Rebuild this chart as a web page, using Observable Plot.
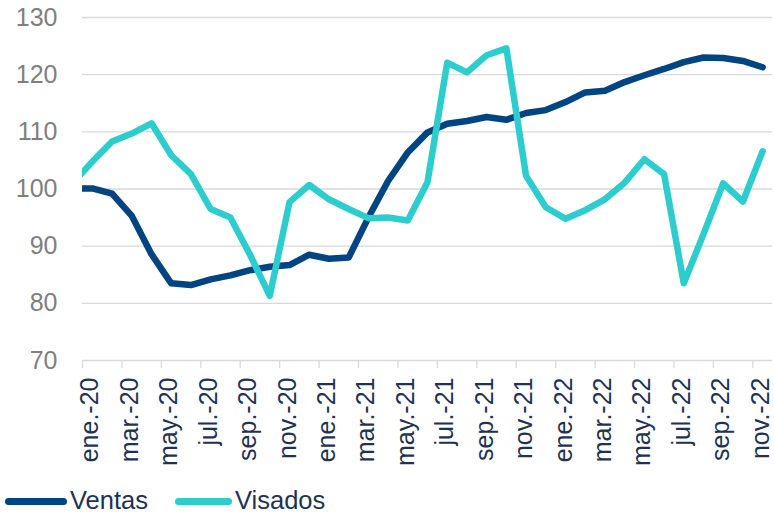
<!DOCTYPE html>
<html><head><meta charset="utf-8">
<script src="https://cdn.jsdelivr.net/npm/d3@7"></script>
<script src="https://cdn.jsdelivr.net/npm/@observablehq/plot@0.6"></script>
<style>
body{margin:0;background:#fff;width:774px;height:513px;overflow:hidden;position:relative;font-family:"Liberation Sans",Arial,sans-serif;}
#chart svg{display:block}
.sw{position:absolute;top:498px;height:7px;border-radius:3.5px;}
.lt{position:absolute;top:488px;font-size:25.5px;line-height:25.5px;color:#1f3251;white-space:nowrap;}
</style></head><body>
<div id="chart"></div>
<div id="legend"></div>
<script>
const months = ["ene.-20","feb.-20","mar.-20","abr.-20","may.-20","jun.-20","jul.-20","ago.-20","sep.-20","oct.-20","nov.-20","dic.-20",
  "ene.-21","feb.-21","mar.-21","abr.-21","may.-21","jun.-21","jul.-21","ago.-21","sep.-21","oct.-21","nov.-21","dic.-21",
  "ene.-22","feb.-22","mar.-22","abr.-22","may.-22","jun.-22","jul.-22","ago.-22","sep.-22","oct.-22","nov.-22"];
const ventas = [100.1,99.2,95.3,88.6,83.5,83.2,84.2,84.9,85.8,86.4,86.7,88.5,
  87.8,88.0,95.0,101.4,106.4,109.9,111.4,111.9,112.6,112.1,113.3,113.8,
  115.2,116.9,117.2,118.7,119.9,121.0,122.2,123.0,122.9,122.4,121.3];
const visados = [104.8,108.3,109.7,111.5,105.9,102.6,96.5,95.0,88.5,81.3,97.7,100.7,
  98.2,96.5,94.9,95.0,94.5,101.2,122.1,120.4,123.4,124.6,102.3,96.8,
  94.8,96.3,98.2,101.1,105.2,102.6,83.5,92.1,101.0,97.8,106.6];
// previous month (dic.-19), only visible as the clipped entry segment at the left edge
const prevVentas = 100.1;
const prevVisados = 101.0;
const yTicks = [70,80,90,100,110,120,130];
const seriesNames = ["Ventas","Visados"];
const seriesColors = ["#004481","#2DCCCD"];

const rows = [
  {i:-1, v:prevVentas, s:"Ventas"}, ...ventas.map((v,i)=>({i, v, s:"Ventas"})),
  {i:-1, v:prevVisados, s:"Visados"}, ...visados.map((v,i)=>({i, v, s:"Visados"}))
];
const labelIdx = months.map((m,i)=>i).filter(i=>i%2===0);
const boundaries = labelIdx.map(i=>i-0.5);

const chart = Plot.plot({
  width:774, height:475,
  marginLeft:82, marginRight:2, marginTop:17, marginBottom:115,
  x:{type:"linear", domain:[-0.5, months.length-0.5]},
  y:{domain:[70,130]},
  color:{domain:seriesNames, range:seriesColors},
  style:{fontFamily:"Liberation Sans, Arial, sans-serif", background:"#fff"},
  marks:[
    Plot.ruleY(yTicks, {stroke:"#d9d9d9", strokeWidth:1.3}),
    Plot.axisY({ticks:yTicks, tickSize:0, tickPadding:25, fontSize:25, fill:"#7f7f7f", label:null}),
    Plot.axisX({ticks:boundaries, tickSize:8, tickFormat:()=>"", stroke:"#d9d9d9", strokeWidth:1.3, label:null}),
    Plot.axisX({ticks:labelIdx, tickSize:0, tickPadding:17, tickRotate:-90, tickFormat:i=>months[i], fontSize:25, fill:"#1f3251", label:null, dx:-2}),
    Plot.line(rows, {x:"i", y:"v", stroke:"s", strokeWidth:6.5, strokeLinejoin:"round", strokeLinecap:"round", clip:true})
  ]
});
document.getElementById("chart").appendChild(chart);

const legendPos = [{sw:5, w:62, t:70},{sw:175, w:57, t:235}];
const leg = document.getElementById("legend");
seriesNames.forEach((n,k)=>{
  const s = document.createElement("div");
  s.className="sw"; s.style.left=legendPos[k].sw+"px"; s.style.width=legendPos[k].w+"px"; s.style.background=seriesColors[k];
  const t = document.createElement("div");
  t.className="lt"; t.style.left=legendPos[k].t+"px"; t.textContent=n;
  leg.appendChild(s); leg.appendChild(t);
});
</script>
</body></html>
